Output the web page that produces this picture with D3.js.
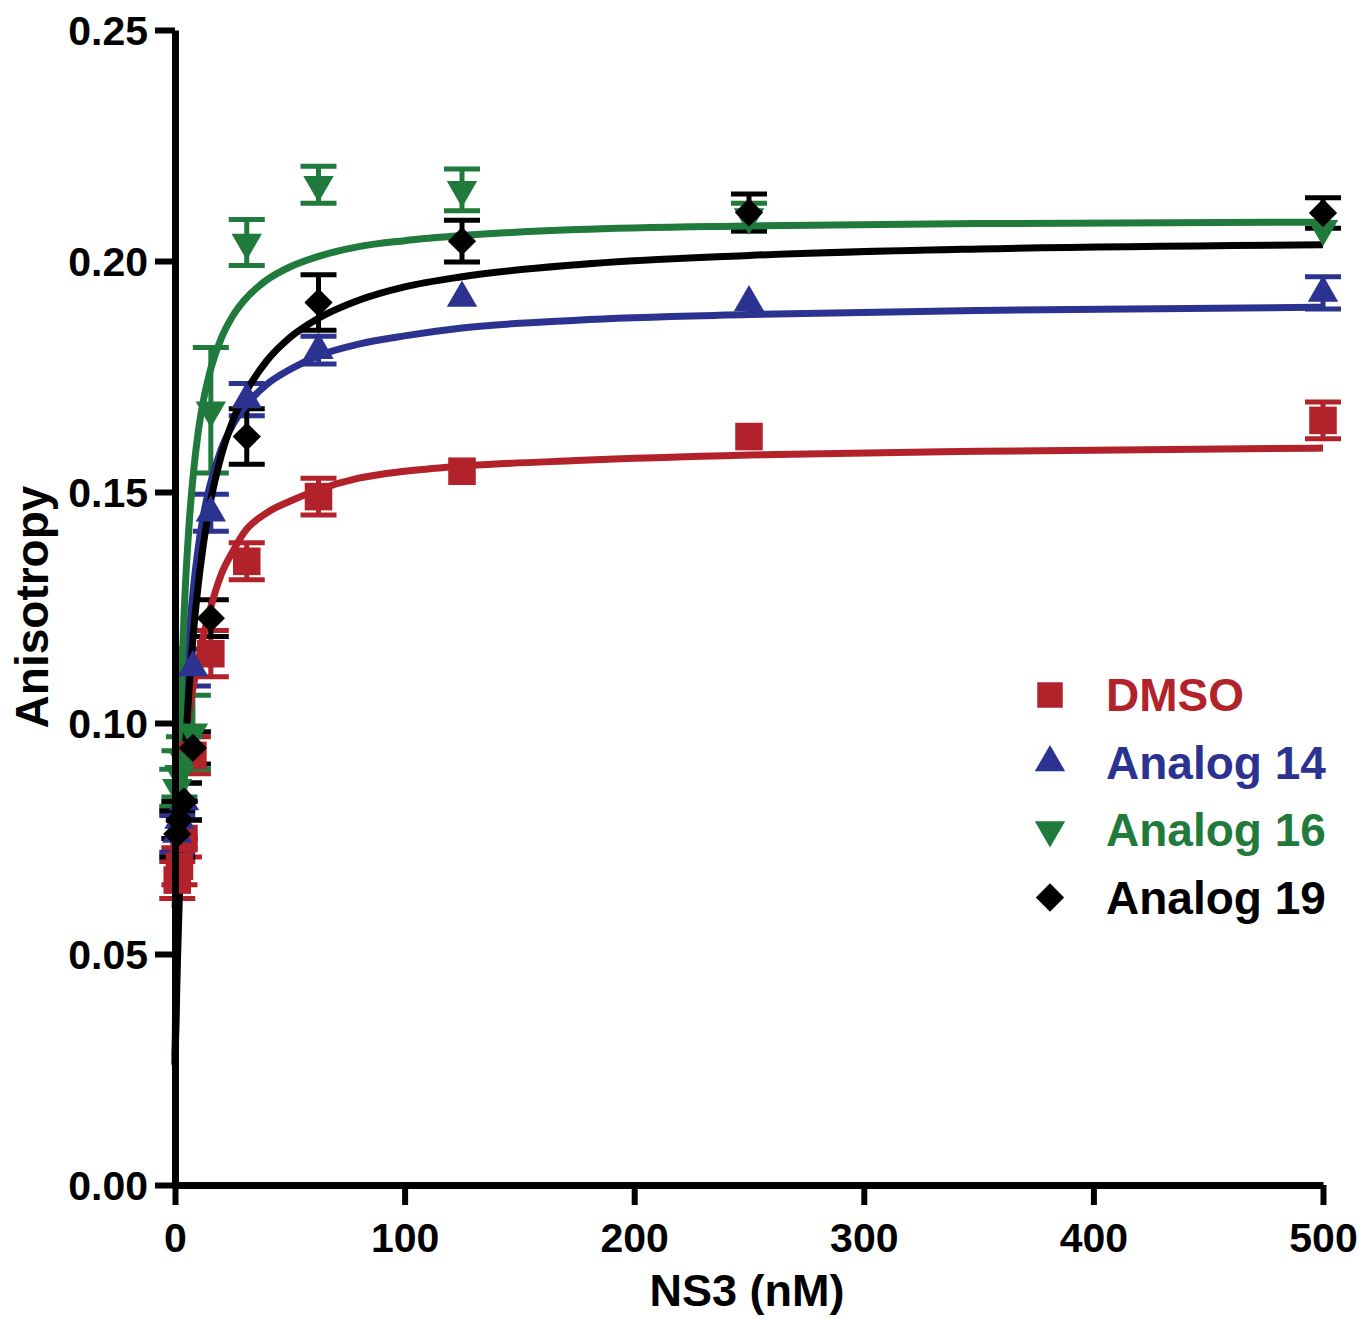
<!DOCTYPE html>
<html>
<head>
<meta charset="utf-8">
<script src="https://cdn.jsdelivr.net/npm/d3@7"></script>
<style>
  body { margin: 0; background: #fff; }
  svg { display: block; font-family: "Liberation Sans", Arial, sans-serif; font-weight: bold; }
</style>
</head>
<body>
<script>
// NS3 concentrations (nM) where anisotropy was measured
let doseX = [0.98, 1.95, 3.9, 7.8, 15.6, 31.25, 62.5, 125, 250, 500];

// error bars of 0 are hidden behind the marker in the figure
let dmsoMean = [0.066, 0.069, 0.075, 0.093, 0.115, 0.135, 0.149, 0.1545, 0.162, 0.1655];
let dmsoErr = [0.004, 0.004, 0.004, 0.004, 0.005, 0.004, 0.004, 0, 0, 0.004];
let a14Mean = [0.076, 0.079, 0.083, 0.112, 0.1455, 0.170, 0.1807, 0.192, 0.191, 0.1931];
let a14Err = [0.004, 0.004, 0.004, 0.004, 0.004, 0.0035, 0.003, 0, 0, 0.0035];
let a16Mean = [0.086, 0.089, 0.092, 0.098, 0.1677, 0.204, 0.2165, 0.2154, 0.2095, 0.207];
let a16Err = [0.004, 0.005, 0.005, 0.008, 0.0136, 0.005, 0.004, 0.0045, 0.003, 0];
let a19Mean = [0.076, 0.079, 0.083, 0.0946, 0.1227, 0.162, 0.191, 0.2043, 0.2105, 0.2104];
let a19Err = [0.005, 0.004, 0.004, 0.0035, 0.004, 0.006, 0.006, 0.0045, 0.004, 0.0033];

// fitted binding curves
let curveX = [0, 1, 2, 4, 6, 8, 10, 12, 15, 20, 25, 30, 40, 50, 62.5, 80, 100, 125, 175, 250, 350, 500];
let dmsoFit = [0.06, 0.072, 0.081, 0.094, 0.102, 0.108, 0.113, 0.118, 0.124, 0.132, 0.137, 0.1412, 0.1455, 0.148, 0.1505, 0.153, 0.1545, 0.1556, 0.1568, 0.158, 0.1588, 0.1595];
let a14Fit = [0.026, 0.054, 0.0745, 0.101, 0.1177, 0.1291, 0.1375, 0.1439, 0.151, 0.1591, 0.1644, 0.1682, 0.1733, 0.1765, 0.1795, 0.182, 0.1838, 0.1855, 0.1872, 0.1884, 0.1893, 0.19];
let a16Fit = [0.028, 0.068, 0.093, 0.124, 0.142, 0.154, 0.1626, 0.1688, 0.1756, 0.1831, 0.188, 0.1914, 0.1959, 0.1987, 0.201, 0.2031, 0.2044, 0.2055, 0.2068, 0.2076, 0.2081, 0.2084];
let a19Fit = [0.026, 0.0473, 0.0641, 0.089, 0.1064, 0.1194, 0.1294, 0.1374, 0.1467, 0.1576, 0.1652, 0.1708, 0.1784, 0.1834, 0.1876, 0.1915, 0.1944, 0.1966, 0.1992, 0.2012, 0.2026, 0.2035];

let seriesNames = ["DMSO", "Analog 14", "Analog 16", "Analog 19"];
let seriesColors = ["#b2222b", "#2c3290", "#1f7a3c", "#000000"];

let xTicks = [0, 100, 200, 300, 400, 500];
let yTicks = [0, 0.05, 0.10, 0.15, 0.20, 0.25];

let width = 1358;
let height = 1321;

let series = [
  {name: seriesNames[0], color: seriesColors[0], mean: dmsoMean, err: dmsoErr, fit: dmsoFit, shape: "square"},
  {name: seriesNames[1], color: seriesColors[1], mean: a14Mean, err: a14Err, fit: a14Fit, shape: "up"},
  {name: seriesNames[2], color: seriesColors[2], mean: a16Mean, err: a16Err, fit: a16Fit, shape: "down"},
  {name: seriesNames[3], color: seriesColors[3], mean: a19Mean, err: a19Err, fit: a19Fit, shape: "diamond"}
];

let xscale = d3.scaleLinear().domain([0, 500]).range([175, 1323]);
let yscale = d3.scaleLinear().domain([0, 0.25]).range([1185, 30]);

let svg = d3.select("body").append("svg").attr("width", width).attr("height", height);

function symbolPath(shape) {
  if (shape == "square") return d3.symbol().type(d3.symbolSquare).size(760)();
  if (shape == "diamond") return d3.symbol().type(d3.symbolSquare).size(400)();
  return d3.symbol().type(d3.symbolTriangle).size(400)();
}
function symbolRotate(shape) {
  if (shape == "diamond") return 45;
  if (shape == "down") return 180;
  return 0;
}

// error bars
series.forEach((s) => {
  let g = svg.append("g").attr("stroke", s.color).attr("stroke-width", 5);
  doseX.forEach((x, i) => {
    if (s.err[i] == 0) return;
    let cx = xscale(x);
    let top = yscale(s.mean[i] + s.err[i]);
    let bot = yscale(s.mean[i] - s.err[i]);
    g.append("line").attr("x1", cx).attr("x2", cx).attr("y1", top).attr("y2", bot);
    g.append("line").attr("x1", cx - 18).attr("x2", cx + 18).attr("y1", top).attr("y2", top);
    g.append("line").attr("x1", cx - 18).attr("x2", cx + 18).attr("y1", bot).attr("y2", bot);
  });
});

// fitted curves
let line = d3.line()
  .x((d) => {return xscale(d[0]);})
  .y((d) => {return yscale(d[1]);})
  .curve(d3.curveMonotoneX);

series.forEach((s) => {
  svg.append("path")
    .datum(curveX.map((x, i) => [x, s.fit[i]]))
    .attr("d", line)
    .attr("fill", "none")
    .attr("stroke", s.color)
    .attr("stroke-width", 7);
});

// markers
series.forEach((s) => {
  svg.append("g").selectAll("path").data(doseX).enter().append("path")
    .attr("d", symbolPath(s.shape))
    .attr("transform", (d, i) => {return "translate(" + xscale(d) + "," + yscale(s.mean[i]) + ") rotate(" + symbolRotate(s.shape) + ")";})
    .attr("fill", s.color);
});

// axes
let xAxis = d3.axisBottom(xscale).tickValues(xTicks).tickSize(20).tickSizeOuter(0).tickPadding(8);
let yAxis = d3.axisLeft(yscale).tickValues(yTicks).tickSize(20).tickSizeOuter(0).tickPadding(7).tickFormat(d3.format(".2f"));

let gx = svg.append("g").attr("transform", "translate(0,1185)").call(xAxis);
let gy = svg.append("g").attr("transform", "translate(175,0)").call(yAxis);

[gx, gy].forEach((g) => {
  g.select(".domain").attr("stroke", "#000").attr("stroke-width", 7);
  g.selectAll(".tick line").attr("stroke", "#000").attr("stroke-width", 6);
  g.selectAll(".tick text").attr("fill", "#000").attr("font-size", 41)
    .attr("font-family", "Liberation Sans, Arial, sans-serif").attr("font-weight", "bold");
});
gx.selectAll(".tick text").attr("dy", "0.95em");
gy.selectAll(".tick text").attr("dy", "0.36em");

// axis titles
svg.append("text")
  .attr("x", 747).attr("y", 1306)
  .attr("text-anchor", "middle")
  .attr("font-size", 45)
  .text("NS3 (nM)");

svg.append("text")
  .attr("transform", "translate(48,607) rotate(-90)")
  .attr("text-anchor", "middle")
  .attr("font-size", 46)
  .text("Anisotropy");

// legend
let legend = svg.append("g");
series.forEach((s, i) => {
  let ly = 695 + i * 67.5;
  legend.append("path")
    .attr("d", s.shape == "square" ? d3.symbol().type(d3.symbolSquare).size(650)() : symbolPath(s.shape))
    .attr("transform", "translate(1050," + ly + ") rotate(" + symbolRotate(s.shape) + ")")
    .attr("fill", s.color);
  legend.append("text")
    .attr("x", 1106).attr("y", ly + 16)
    .attr("font-size", 46)
    .attr("fill", s.color)
    .text(s.name);
});
</script>
</body>
</html>
